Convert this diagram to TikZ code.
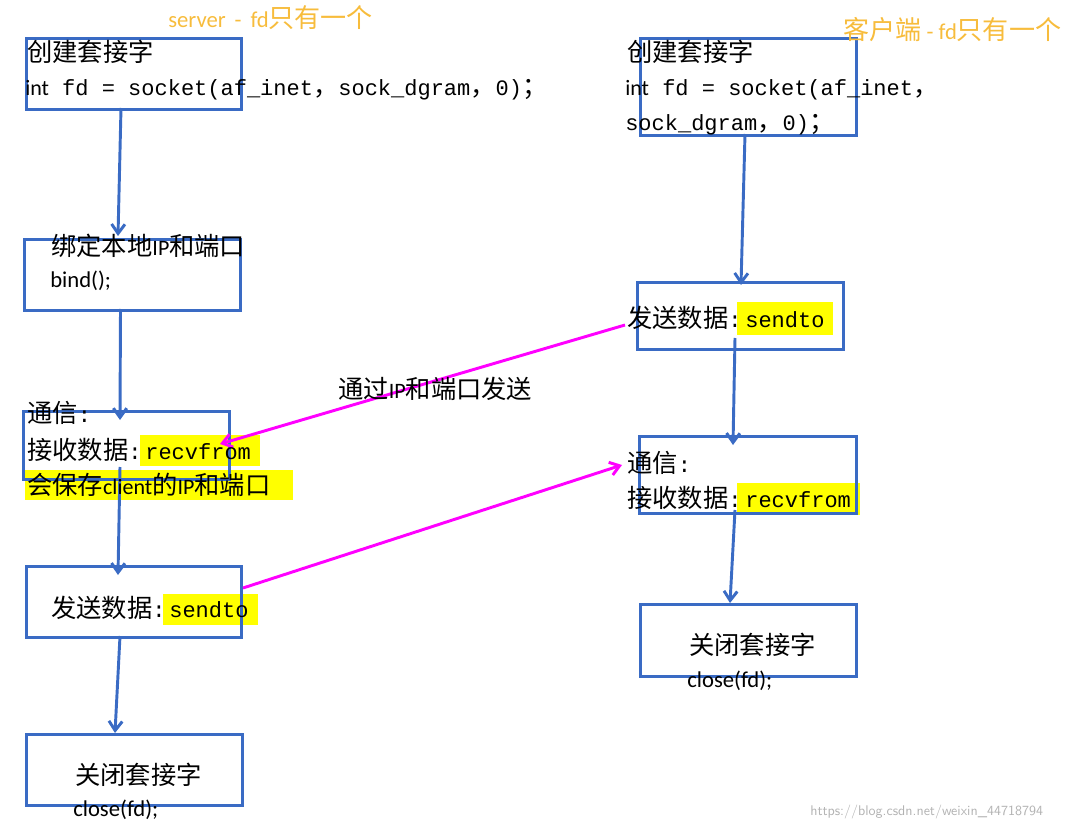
\documentclass[tikz,border=0pt]{standalone}
\usepackage{fontspec}
\setmainfont{Liberation Mono}
\newfontfamily\cjk[Scale=1.15]{Noto Sans CJK SC}
\newfontfamily\calb{Carlito}
\usetikzlibrary{arrows.meta}
\definecolor{bl}{HTML}{3A6BC4}
\definecolor{mg}{HTML}{FF00FF}
\definecolor{org}{HTML}{F7BC3C}
\definecolor{hl}{HTML}{FFFF00}
\begin{document}
\begin{tikzpicture}[x=0.75pt,y=-0.75pt,
  box/.style={draw=bl,line width=2.2pt},
  fl/.style={draw=bl,line width=2.2pt,-{Straight Barb[length=7pt,width=10pt]}},
  mf/.style={draw=mg,line width=2.2pt,-{Straight Barb[length=7pt,width=10pt]}},
  t/.style={anchor=west,inner sep=0pt,font=\fontsize{16.5}{18}\selectfont}]
\useasboundingbox (0,0) rectangle (1091,830);
% highlights
\fill[hl] (140,435) rectangle (260,466);
\fill[hl] (25,470) rectangle (293,500);
\fill[hl] (163,594) rectangle (258,625);
\fill[hl] (737,302) rectangle (833,335);
\fill[hl] (737,483) rectangle (860,515);
% boxes
\node[box,minimum width=161.25pt,minimum height=53.25pt,anchor=north west] (b1) at (25,37) {};
\node[box,minimum width=162pt,minimum height=53.25pt,anchor=north west] (b2) at (23,238) {};
\node[box,minimum width=154.5pt,minimum height=51pt,anchor=north west] (b3) at (22,410) {};
\node[box,minimum width=161.25pt,minimum height=53.25pt,anchor=north west] (b4) at (25,565) {};
\node[box,minimum width=162pt,minimum height=53.25pt,anchor=north west] (b5) at (25,733) {};
\node[box,minimum width=162pt,minimum height=72.75pt,anchor=north west] (r1) at (639,37) {};
\node[box,minimum width=154.5pt,minimum height=50.25pt,anchor=north west] (r2) at (636,281) {};
\node[box,minimum width=162.75pt,minimum height=57.75pt,anchor=north west] (r3) at (638,435) {};
\node[box,minimum width=162pt,minimum height=54pt,anchor=north west] (r4) at (639,603) {};
% coordinates for arrows
\coordinate (a1s) at (121,108); \coordinate (a1e) at (118,236);
\coordinate (a2s) at (120.5,309); \coordinate (a2e) at (120,420);
\coordinate (a3s) at (120,467); \coordinate (a3e) at (118,575);
\coordinate (a4s) at (120,636); \coordinate (a4e) at (115,733);
\coordinate (c1s) at (745,134); \coordinate (c1e) at (741,285);
\coordinate (c2s) at (735,338); \coordinate (c2e) at (733,445);
\coordinate (c3s) at (735,510); \coordinate (c3e) at (730,603);
\coordinate (m1s) at (625,325); \coordinate (m1e) at (220,444);
\coordinate (m2s) at (243,588); \coordinate (m2e) at (622,465);
\draw[fl] (a1s) -- (a1e); \draw[fl] (a2s) -- (a2e); \draw[fl] (a3s) -- (a3e); \draw[fl] (a4s) -- (a4e);
\draw[fl] (c1s) -- (c1e); \draw[fl] (c2s) -- (c2e); \draw[fl] (c3s) -- (c3e);
\draw[mf] (m1s) -- (m1e); \draw[mf] (m2s) -- (m2e);
% texts
\node[t,text=org,font=\calb\fontsize{17}{18}\selectfont] (s) at (168,18) {server \,-\, fd{\cjk 只有一个}};
\node[t,text=org,font=\calb\fontsize{17}{18}\selectfont] (c) at (843,30) {{\cjk 客户端} - fd{\cjk 只有一个}};
\node[t] (l1) at (27,52) {\cjk 创建套接字};
\node[t] (l2) at (25,90) {{\calb int} fd = socket(af\_inet{\cjk ，}sock\_dgram{\cjk ，}0){\cjk ；}};
\node[t] (l3) at (51,246) {{\cjk 绑定本地}{\calb IP}{\cjk 和端口}};
\node[t,font=\calb\fontsize{17}{18}\selectfont] (l4) at (50,281) {bind();};
\node[t] (l5) at (27,413) {{\cjk 通信}:};
\node[t] (l6) at (27,450) {{\cjk 接收数据}:\,recvfrom};
\node[t] (l7) at (27,485) {{\cjk 会保存}{\calb client}{\cjk 的}{\calb IP}{\cjk 和端口}};
\node[t] (l8) at (51,608) {{\cjk 发送数据}:\,sendto};
\node[t] (l9) at (75,775) {\cjk 关闭套接字};
\node[t,font=\calb\fontsize{17}{18}\selectfont] (l10) at (73,810) {close(fd);};
\node[t] (r1t) at (627,52) {\cjk 创建套接字};
\node[t] (r2t) at (625,90) {{\calb int} fd = socket(af\_inet{\cjk ，}};
\node[t] (r3t) at (625,125) {sock\_dgram{\cjk ，}0){\cjk ；}};
\node[t] (r4t) at (627,318) {{\cjk 发送数据}:\,sendto};
\node[t] (r5t) at (627,463) {{\cjk 通信}:};
\node[t] (r6t) at (627,498) {{\cjk 接收数据}:\,recvfrom};
\node[t] (r7t) at (689,645) {\cjk 关闭套接字};
\node[t,font=\calb\fontsize{17}{18}\selectfont] (r8t) at (687,681) {close(fd);};
\node[t] (ml) at (338,389) {{\cjk 通过}{\calb IP}{\cjk 和端口发送}};
\node[t,text=gray!60,font=\sffamily\fontsize{10.5}{12}\selectfont] (wm) at (810,812) {https://blog.csdn.net/weixin\_44718794};
\end{tikzpicture}
\end{document}
